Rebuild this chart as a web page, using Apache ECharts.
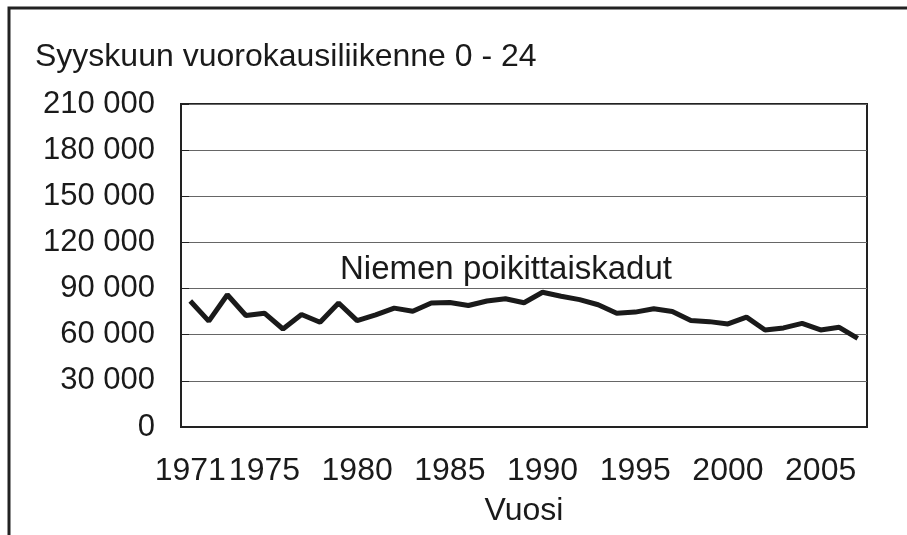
<!DOCTYPE html>
<html>
<head>
<meta charset="utf-8">
<script src="https://cdn.jsdelivr.net/npm/echarts@6/dist/echarts.min.js"></script>
<style>
html, body { margin: 0; padding: 0; background: #fff; }
#chart { width: 907px; height: 535px; }
</style>
</head>
<body>
<div id="chart"></div>
<script>
// vuodet ja syyskuun vuorokausiliikenne
var years = [];
for (var y = 1971; y <= 2007; y++) years.push(String(y));
var traffic = [81900, 68800, 86000, 72500, 74000, 63700, 73100, 68100, 80600, 69200,
    72900, 77300, 75300, 80600, 81000, 79000, 81900, 83400, 80800, 87600,
    85000, 82800, 79500, 74000, 74700, 76900, 75100, 69200, 68500, 67000,
    71400, 63100, 64400, 67400, 63100, 64800, 57600];
var seriesName = 'Niemen poikittaiskadut';
var titleText = 'Syyskuun vuorokausiliikenne 0 - 24';

var FONT = 'Liberation Sans, Arial, sans-serif';
var myChart = echarts.init(document.getElementById('chart'));

option = {
    animation: false,
    backgroundColor: '#fff',
    grid: {
        left: 181,
        right: 40,
        top: 104,
        bottom: 108,
        show: true,
        borderColor: '#222',
        borderWidth: 2
    },
    graphic: [{
        type: 'rect',
        shape: { x: 9, y: 8, width: 1000, height: 600 },
        style: { fill: 'none', stroke: '#222', lineWidth: 3 },
        silent: true
    }, {
        type: 'text',
        left: 35,
        top: 41,
        style: { text: titleText, font: '32px ' + FONT, fill: '#1a1a1a' }
    }, {
        type: 'text',
        left: 340,
        top: 253,
        style: { text: seriesName, font: '33px ' + FONT, fill: '#1a1a1a' }
    }],
    xAxis: {
        type: 'category',
        data: years,
        boundaryGap: true,
        name: 'Vuosi',
        nameLocation: 'middle',
        nameGap: 68,
        nameTextStyle: { fontSize: 32, fontFamily: FONT, color: '#1a1a1a' },
        axisLine: { lineStyle: { color: '#222', width: 2 } },
        axisTick: {
            inside: true,
            length: 8,
            lineStyle: { color: '#444', width: 1 },
            interval: function (index) { return index > 0 && index % 5 === 0; }
        },
        axisLabel: {
            margin: 28,
            fontSize: 32,
            fontFamily: FONT,
            color: '#1a1a1a',
            interval: function (index, value) {
                return index === 0 || Number(value) % 5 === 0;
            }
        },
        splitLine: { show: false }
    },
    yAxis: {
        type: 'value',
        min: 0,
        max: 210000,
        interval: 30000,
        axisLine: { show: true, lineStyle: { color: '#222', width: 2 } },
        axisTick: { show: true, inside: true, length: 8, lineStyle: { color: '#222' } },
        axisLabel: {
            margin: 26,
            fontSize: 31,
            fontFamily: FONT,
            color: '#1a1a1a',
            formatter: function (v) {
                return String(v).replace(/\B(?=(\d{3})+(?!\d))/g, ' ');
            }
        },
        splitLine: { lineStyle: { color: '#666', width: 1 } }
    },
    series: [{
        name: seriesName,
        type: 'line',
        data: traffic,
        showSymbol: false,
        lineStyle: { color: '#1a1a1a', width: 5 },
        itemStyle: { color: '#1a1a1a' }
    }]
};

myChart.setOption(option);
</script>
</body>
</html>
